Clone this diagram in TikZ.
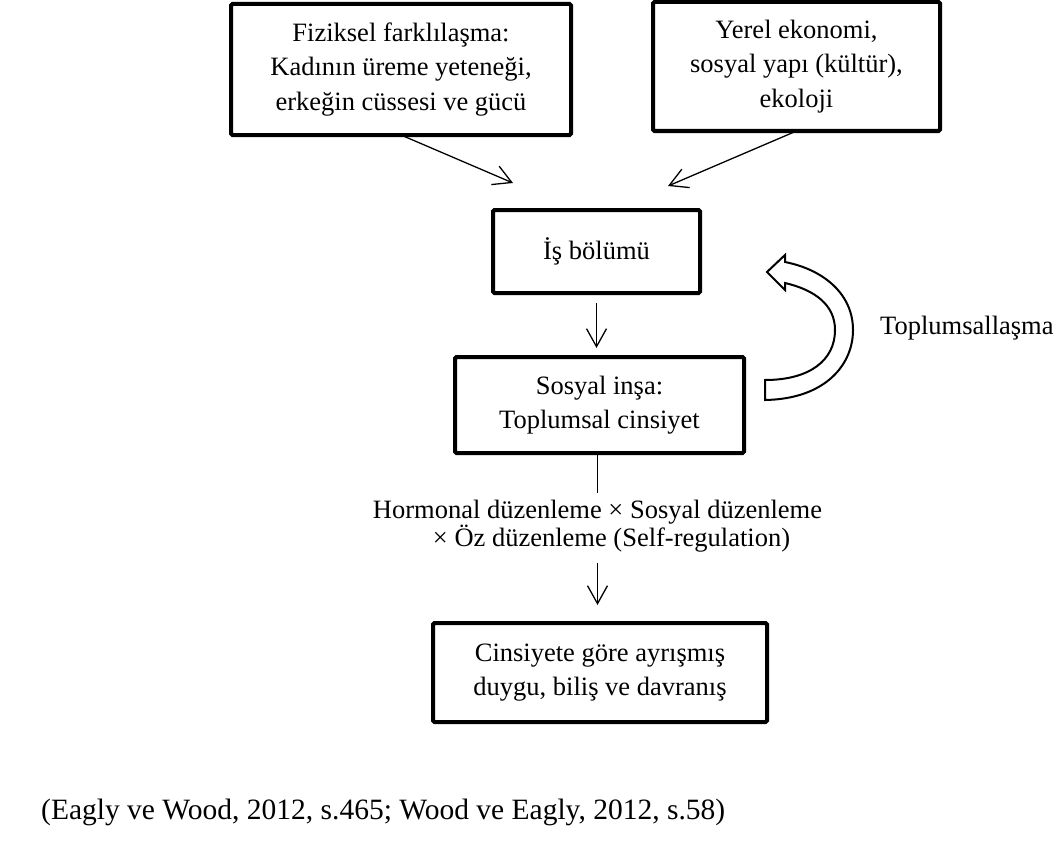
\documentclass[tikz,border=0pt]{standalone}
\usepackage{fontspec}
\setmainfont{Liberation Serif}
\usetikzlibrary{arrows.meta,calc}
\begin{document}
\begin{tikzpicture}[x=1pt,y=-1pt,
  boxnode/.style={draw, line width=4pt, rounded corners=1.5pt, outer sep=0pt, inner sep=0pt,
    align=center, font=\fontsize{26.5}{34.5}\selectfont},
  lbl/.style={inner sep=0pt, outer sep=0pt, fill=white, text height=19pt, text depth=6pt,
    font=\fontsize{26.5}{30}\selectfont},
  arr/.style={-{Straight Barb[length=18pt,width=20pt]}, line width=1.3pt},
  plain/.style={line width=1.3pt}]
\useasboundingbox (0,0) rectangle (1062,864);
\fill[white] (0,0) rectangle (1062,864);

\node[boxnode, minimum width=340pt, minimum height=131pt] (b1) at (401,69.5)
  {Fiziksel farklılaşma:\\Kadının üreme yeteneği,\\erkeğin cüssesi ve gücü};
\node[boxnode, minimum width=287pt, minimum height=129pt] (b2) at (796.5,66.5)
  {Yerel ekonomi,\\sosyal yapı (kültür),\\ekoloji};
\node[boxnode, minimum width=207pt, minimum height=83pt] (b3) at (596.5,251.5)
  {İş bölümü};
\node[boxnode, minimum width=289pt, minimum height=96pt] (b4) at (599.5,405)
  {Sosyal inşa:\\Toplumsal cinsiyet};
\node[boxnode, minimum width=334pt, minimum height=99pt] (b5) at (600,672.5)
  {Cinsiyete göre ayrışmış\\duygu, biliş ve davranış};

\node[lbl] (h1) at (597.5,512) {Hormonal düzenleme × Sosyal düzenleme};
\node[lbl] (h2) at (611.5,540) {× Öz düzenleme (Self-regulation)};

\node[anchor=west, inner sep=0pt, font=\fontsize{26.5}{30}\selectfont] (soc) at (880,328) {Toplumsallaşma};

\node[anchor=west, inner sep=0pt, font=\fontsize{29.5}{34}\selectfont] (cite) at (41,812)
  {(Eagly ve Wood, 2012, s.465; Wood ve Eagly, 2012, s.58)};

\coordinate (t1) at (513,183);
\coordinate (t2) at (668,186);

\draw[arr] (b1.south) -- (t1);
\draw[arr] (b2.south) -- (t2);
\draw[arr, shorten <=10pt, shorten >=9pt] (b3.south) -- (b3.south |- b4.north);
\draw[plain, shorten >=7pt] (h1.north |- b4.south) -- (h1.north);
\draw[arr, shorten <=10pt, shorten >=18pt] (h1.south |- h2.south) -- (h1.south |- b5.north);

% curved block arrow (Toplumsallaşma loop)
\draw[line width=2pt, line join=miter, fill=white]
  (765,400) .. controls (825,399) and (853,365) .. (853,330)
  .. controls (853,295) and (825,270) .. (785,262)
  -- (785,255) -- (767,272) -- (785,290) -- (785,283)
  .. controls (815,290) and (835,305) .. (835,330)
  .. controls (835,360) and (810,380) .. (765,380) -- cycle;
\end{tikzpicture}
\end{document}
